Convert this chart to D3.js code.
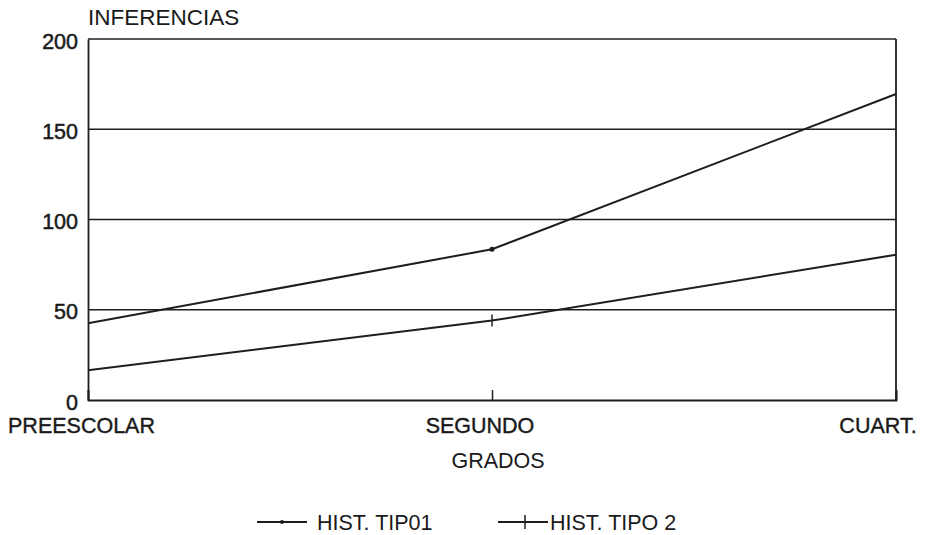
<!DOCTYPE html>
<html>
<head>
<meta charset="utf-8">
<script src="https://cdn.jsdelivr.net/npm/d3@7"></script>
<style>
  body { margin: 0; background: #fff; }
  text { font-family: "Liberation Sans", Arial, sans-serif; fill: #1a1a1a; }
</style>
</head>
<body>
<svg></svg>
<script>
const width = 931;
const height = 535;
const margin = { top: 39, right: 35, bottom: 135, left: 88 };

const grados = ["PREESCOLAR", "SEGUNDO", "CUART."];
const tipo1 = [42.5, 83.5, 169.5];
const tipo2 = [16.5, 44, 80.5];
const yTicks = [0, 50, 100, 150, 200];
const seriesNames = ["HIST. TIP01", "HIST. TIPO 2"];

const svg = d3.select("svg")
    .attr("width", width)
    .attr("height", height);

const x = d3.scalePoint()
    .domain(grados)
    .range([margin.left, width - margin.right]);

const y = d3.scaleLinear()
    .domain([0, 200])
    .range([height - margin.bottom, margin.top]);

const stroke = "#1e1e1e";
const fontSize = 21.5;

// horizontal grid lines (including top border)
svg.append("g")
    .selectAll("line")
    .data(yTicks.filter(d => d > 0))
    .enter().append("line")
    .attr("x1", margin.left)
    .attr("x2", width - margin.right)
    .attr("y1", d => y(d))
    .attr("y2", d => y(d))
    .attr("stroke", stroke)
    .attr("stroke-width", 1.6);

// axes frame
const yAxis = svg.append("g")
    .attr("transform", `translate(${margin.left},0)`)
    .call(d3.axisLeft(y).tickValues(yTicks).tickSize(0).tickPadding(10));
yAxis.select(".domain").attr("stroke", stroke).attr("stroke-width", 1.8);
yAxis.selectAll("text")
    .attr("font-size", fontSize)
    .attr("dy", "0.42em")
    .attr("fill", "#1a1a1a")
    .attr("stroke", "#1a1a1a")
    .attr("stroke-width", 0.5)
    .attr("font-family", "'Liberation Sans', Arial, sans-serif");

const xAxis = svg.append("g")
    .attr("transform", `translate(0,${y(0)})`)
    .call(d3.axisTop(x).tickSize(10).tickFormat(""));
xAxis.select(".domain").attr("stroke", stroke).attr("stroke-width", 1.8);
xAxis.selectAll(".tick line").attr("stroke", stroke).attr("stroke-width", 1.5);

// right border
svg.append("line")
    .attr("x1", x(grados[2])).attr("x2", x(grados[2]))
    .attr("y1", y(200)).attr("y2", y(0))
    .attr("stroke", stroke).attr("stroke-width", 1.8);

// category labels
const labelShift = [-6.5, -12, -18];
svg.append("g")
    .selectAll("text")
    .data(grados)
    .enter().append("text")
    .attr("x", (d, i) => x(d) + labelShift[i])
    .attr("y", y(0) + 33)
    .attr("text-anchor", "middle")
    .attr("font-size", fontSize)
    .attr("stroke", "#1a1a1a")
    .attr("stroke-width", 0.4)
    .text(d => d);

svg.append("text")
    .attr("x", margin.left)
    .attr("y", 25)
    .attr("font-size", 22.5)
    .text("INFERENCIAS");

svg.append("text")
    .attr("x", 498)
    .attr("y", y(0) + 68)
    .attr("text-anchor", "middle")
    .attr("font-size", fontSize)
    .text("GRADOS");

// series lines
const line = d3.line()
    .x((d, i) => x(grados[i]))
    .y(d => y(d));

[tipo1, tipo2].forEach(s => {
    svg.append("path")
        .datum(s)
        .attr("d", line)
        .attr("fill", "none")
        .attr("stroke", stroke)
        .attr("stroke-width", 2);
});

// markers at the middle category
svg.append("circle")
    .attr("cx", x(grados[1]))
    .attr("cy", y(tipo1[1]))
    .attr("r", 2.5)
    .attr("fill", stroke);

svg.append("line")
    .attr("x1", x(grados[1])).attr("x2", x(grados[1]))
    .attr("y1", y(tipo2[1]) - 6).attr("y2", y(tipo2[1]) + 6)
    .attr("stroke", stroke).attr("stroke-width", 1.5);

// legend
const legend = svg.append("g").attr("transform", `translate(0, 522)`);
const legendX = [257, 498];
seriesNames.forEach((name, i) => {
    const g = legend.append("g").attr("transform", `translate(${legendX[i]},0)`);
    g.append("line")
        .attr("x1", 0).attr("x2", 50)
        .attr("y1", 0).attr("y2", 0)
        .attr("stroke", stroke).attr("stroke-width", 1.8);
    if (i === 0) {
        g.append("circle").attr("cx", 25).attr("cy", 0).attr("r", 2).attr("fill", stroke);
    } else {
        g.append("line")
            .attr("x1", 27).attr("x2", 27)
            .attr("y1", -7).attr("y2", 7)
            .attr("stroke", stroke).attr("stroke-width", 1.5);
    }
    g.append("text")
        .attr("x", i === 0 ? 60 : 52)
        .attr("y", 7.5)
        .attr("font-size", fontSize)
        .text(name);
});
</script>
</body>
</html>
